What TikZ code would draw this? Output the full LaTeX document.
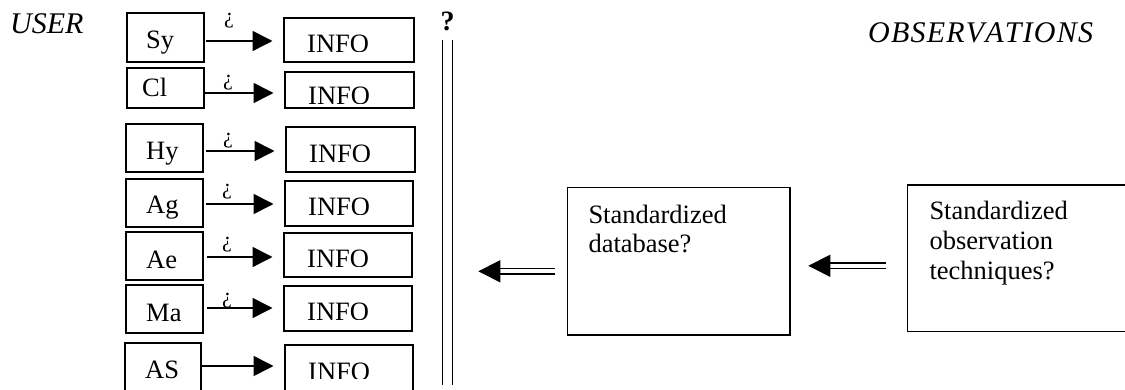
\documentclass[tikz,border=0pt]{standalone}
\usepackage{fontspec}
\setmainfont{Liberation Serif}
\usetikzlibrary{arrows.meta}

% rectangle node from its top-left and bottom-right corners
\newcommand\rectnode[5]{%
  \node[box, minimum width={#4-#2}, minimum height={#5-#3}] (#1) at (#2,#3) {};}
% an INFO box (#6 = baseline) whose text is cut off at its baseline
\newcommand\infobox[6]{%
  \rectnode{#1}{#2}{#3}{#4}{#5}
  \begin{scope}
    \clip (#2,#3) rectangle (#4,#6-1.2);
    \node[txt, anchor=base west] (#1txt) at (#2+23,#6) {INFO};
  \end{scope}}

\begin{document}
\begin{tikzpicture}[x=1pt, y=-1pt,
  box/.style={draw, line width=1.5pt, inner sep=0pt, outer sep=0pt, anchor=north west},
  txt/.style={font=\fontsize{26.5}{30}\selectfont, inner sep=0pt, anchor=base},
  lbl/.style={txt, anchor=base west},
  title/.style={font=\fontsize{30}{32}\selectfont\itshape, inner sep=0pt, anchor=base west},
  inv/.style={font=\fontsize{22}{24}\selectfont, inner sep=0pt, anchor=base},
  arr/.style={line width=1.6pt, -{Triangle[length=20pt,width=20pt]}, shorten >=11.5pt},
  darr/.style={double, double distance=4.4pt, line width=1.4pt, -{Triangle[length=22pt,width=22pt]}},
  rail/.style={line width=1.5pt}]
\useasboundingbox (0,0) rectangle (1125,390);

% headings
\node[title] (user) at (10,34) {USER};
\node[title, font=\fontsize{30}{32}\selectfont\itshape\addfontfeature{Kerning=Off,LetterSpace=4}] (obs) at (868,43) {OBSERVATIONS};

% left column: user groups
\rectnode{sy}{127}{13}{204}{62}
\rectnode{cl}{127}{68}{204}{108}
\rectnode{hy}{126}{124}{203}{172}
\rectnode{ag}{126}{179}{203}{227}
\rectnode{ae}{126}{232}{203}{280}
\rectnode{ma}{126}{285}{203}{333}
\rectnode{as}{125}{343}{201}{392}

\node[lbl] (syl) at (146,49) {Sy};
\node[lbl] (cll) at (142,97) {Cl};
\node[lbl] (hyl) at (146,160) {Hy};
\node[lbl] (agl) at (146,214) {Ag};
\node[lbl] (ael) at (146,269) {Ae};
\node[lbl] (mal) at (146,321.5) {Ma};
\node[lbl] (asl) at (145,378) {AS};

% information boxes
\infobox{i1}{284}{18}{414}{62}{52.5}
\infobox{i2}{285}{72}{414}{108}{105}
\infobox{i3}{286}{127}{415}{172}{162.5}
\infobox{i4}{285}{181}{413}{226}{215.5}
\infobox{i5}{284}{233}{412}{277}{267.5}
\infobox{i6}{284}{286}{412}{331}{320.5}
\infobox{i7}{285}{345}{413}{392}{380}

% arrows from groups to information
\coordinate (a1) at (206,41);
\coordinate (a2) at (205,93);
\coordinate (a3) at (206,151);
\coordinate (a4) at (206,204);
\coordinate (a5) at (207,257);
\coordinate (a6) at (207,308);
\coordinate (a7) at (202,366);
\draw[arr] (a1) -- (a1 -| i1.west);
\draw[arr] (a2) -- (a2 -| i2.west);
\draw[arr] (a3) -- (a3 -| i3.west);
\draw[arr] (a4) -- (a4 -| i4.west);
\draw[arr] (a5) -- (a5 -| i5.west);
\draw[arr] (a6) -- (a6 -| i6.west);
\draw[arr] (a7) -- (a7 -| i7.west);

% inverted question marks over the arrows
\node[inv] (q1) at (229,24) {¿};
\node[inv] (q2) at (228,86) {¿};
\node[inv] (q3) at (228,144) {¿};
\node[inv] (q4) at (227,195) {¿};
\node[inv] (q5) at (227,248) {¿};
\node[inv] (q6) at (227,303) {¿};

% double rail with question mark
\node[txt, font=\fontsize{28}{30}\selectfont\bfseries] (qm) at (447.7,31) {?};
\draw[rail] (442.7,40) -- (442.7,385);
\draw[rail] (452.7,40) -- (452.7,385);

% database box
\rectnode{db}{567.7}{187.3}{790}{335}
\node[lbl] (db1) at (588.3,223.3) {Standardized};
\node[lbl] (db2) at (588.3,252.7) {database?};

% observation techniques box (runs off the right edge)
\rectnode{ot}{907.3}{185}{1150}{331.7}
\node[lbl] (ot1) at (929.3,219.3) {Standardized};
\node[lbl] (ot2) at (929.3,249.5) {observation};
\node[lbl] (ot3) at (929.3,279.5) {techniques?};

% double arrows
\coordinate (d1s) at (555,271.3);
\coordinate (d1e) at (478.3,271.3);
\draw[darr] (d1s) -- (d1e);
\coordinate (d2s) at (886,265.8);
\coordinate (d2e) at (808.3,265.8);
\draw[darr] (d2s) -- (d2e);
\end{tikzpicture}
\end{document}
